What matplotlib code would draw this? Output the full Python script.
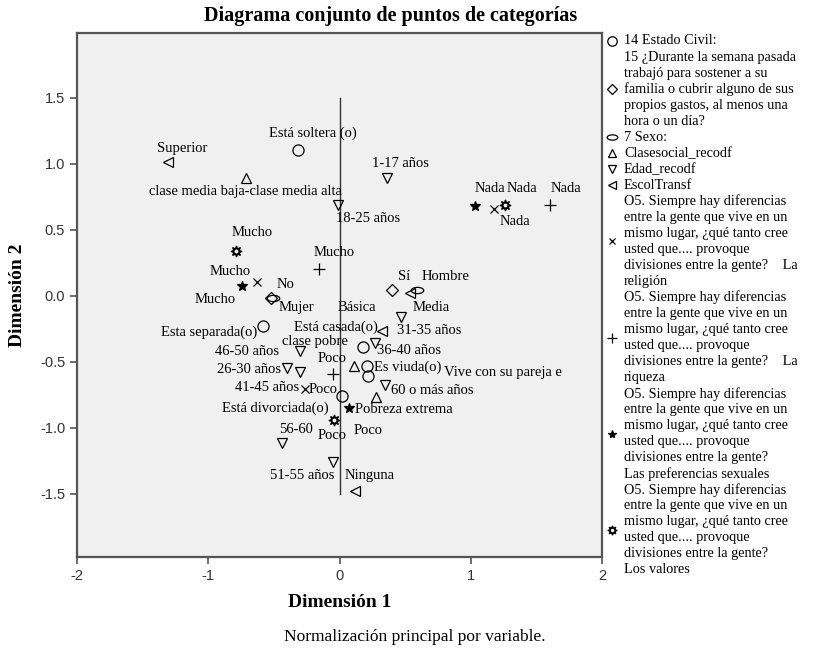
import numpy as np
import matplotlib
matplotlib.use("Agg")
import matplotlib.pyplot as plt
from matplotlib.path import Path
from matplotlib.transforms import Affine2D
from matplotlib.ticker import FormatStrFormatter

## category points (Dimension 1, Dimension 2)
civil_lbl = ["Está soltera (o)", "Está casada(o)", "Esta separada(o)",
             "Está divorciada(o)", "Es viuda(o)", "Vive con su pareja e"]
civil_x = [-0.32, 0.18, -0.58, 0.02, 0.21, 0.22]
civil_y = [1.10, -0.39, -0.23, -0.76, -0.53, -0.61]

trabajo_lbl = ["Sí", "No"]
trabajo_x = [0.40, -0.52]
trabajo_y = [0.045, -0.02]

sexo_lbl = ["Hombre", "Mujer"]
sexo_x = [0.59, -0.51]
sexo_y = [0.045, -0.02]

clase_lbl = ["clase media baja-clase media alta", "clase pobre", "Pobreza extrema"]
clase_x = [-0.71, 0.11, 0.275]
clase_y = [0.89, -0.53, -0.765]

edad_lbl = ["1-17 años", "18-25 años", "26-30 años", "31-35 años", "36-40 años",
            "41-45 años", "46-50 años", "51-55 años", "56-60", "60 o más años"]
edad_x = [0.36, -0.01, -0.40, 0.47, 0.27, -0.30, -0.30, -0.05, -0.435, 0.35]
edad_y = [0.89, 0.69, -0.545, -0.16, -0.36, -0.58, -0.42, -1.26, -1.12, -0.68]

escol_lbl = ["Superior", "Básica", "Media", "Ninguna"]
escol_x = [-1.31, 0.32, 0.54, 0.12]
escol_y = [1.01, -0.27, 0.02, -1.48]

religion_lbl = ["Mucho", "Poco", "Nada"]
religion_x = [-0.63, -0.26, 1.18]
religion_y = [0.10, -0.71, 0.66]

riqueza_lbl = ["Mucho", "Poco", "Nada"]
riqueza_x = [-0.16, -0.053, 1.60]
riqueza_y = [0.205, -0.59, 0.69]

pref_lbl = ["Mucho", "Poco", "Nada"]
pref_x = [-0.74, 0.07, 1.03]
pref_y = [0.076, -0.85, 0.68]

valores_lbl = ["Mucho", "Poco", "Nada"]
valores_x = [-0.79, -0.04, 1.26]
valores_y = [0.34, -0.94, 0.69]

legend_lbl = [
    "14 Estado Civil:",
    "15 ¿Durante la semana pasada\ntrabajó para sostener a su\nfamilia o cubrir alguno de sus\npropios gastos, al menos una\nhora o un día?",
    "7 Sexo:",
    "Clasesocial_recodf",
    "Edad_recodf",
    "EscolTransf",
    "O5. Siempre hay diferencias\nentre la gente que vive en un\nmismo lugar, ¿qué tanto cree\nusted que.... provoque\ndivisiones entre la gente?    La\nreligión",
    "O5. Siempre hay diferencias\nentre la gente que vive en un\nmismo lugar, ¿qué tanto cree\nusted que.... provoque\ndivisiones entre la gente?    La\nriqueza",
    "O5. Siempre hay diferencias\nentre la gente que vive en un\nmismo lugar, ¿qué tanto cree\nusted que.... provoque\ndivisiones entre la gente?\nLas preferencias sexuales",
    "O5. Siempre hay diferencias\nentre la gente que vive en un\nmismo lugar, ¿qué tanto cree\nusted que.... provoque\ndivisiones entre la gente?\nLos valores",
]

## label placement: offset in pixels from the marker + alignment
civil_off = [(15, 17, "center"), (15, 20, "right"), (-6, -6, "right"),
             (-13, -12, "right"), (7, -2, "left"), (76, 4, "left")]
trabajo_off = [(12, 13, "center"), (14, 14, "center")]
sexo_off = [(29, 13, "center"), (24, -9, "center")]
clase_off = [(-1, -13, "center"), (-39, 24, "center"), (-21, -13, "left")]
edad_off = [(14, 15, "center"), (-2, -14, "left"), (-6, -2, "right"), (-4, -14, "left"),
            (2, -7, "left"), (-1, -15, "right"), (-21, 0, "right"), (1, -14, "right"),
            (14, 14, "center"), (6, -5, "left")]
escol_off = [(15, 14, "center"), (-25, 24, "center"), (21, -14, "center"), (14, 16, "center")]
religion_off = [(-27, 11, "center"), (3, 0, "left"), (21, -13, "center")]
riqueza_off = [(16, 16, "center"), (0, 15, "center"), (16, 16, "center")]
pref_off = [(-27, -14, "center"), (19, -23, "center"), (15, 17, "center")]
valores_off = [(16, 18, "center"), (-2, -16, "center"), (17, 16, "center")]

serif = "Liberation Serif"
sans = "Liberation Sans"

ellipse = Path.unit_circle().transformed(Affine2D().scale(1.0, 0.5))

styles = [
    dict(marker="o", ms=8, mfc="none"),
    dict(marker="D", ms=6.5, mfc="none"),
    dict(marker=ellipse, ms=9, mfc="none"),
    dict(marker="^", ms=7, mfc="none"),
    dict(marker="v", ms=7, mfc="none"),
    dict(marker="<", ms=7, mfc="none"),
    dict(marker="x", ms=5.5, mfc="none"),
    dict(marker="+", ms=8, mfc="none"),
    dict(marker="*", ms=7, mfc="black"),
    dict(marker=(8, 1, 0), ms=8, mfc="black"),
]

groups = [
    (civil_x, civil_y, civil_lbl, civil_off),
    (trabajo_x, trabajo_y, trabajo_lbl, trabajo_off),
    (sexo_x, sexo_y, sexo_lbl, sexo_off),
    (clase_x, clase_y, clase_lbl, clase_off),
    (edad_x, edad_y, edad_lbl, edad_off),
    (escol_x, escol_y, escol_lbl, escol_off),
    (religion_x, religion_y, religion_lbl, religion_off),
    (riqueza_x, riqueza_y, riqueza_lbl, riqueza_off),
    (pref_x, pref_y, pref_lbl, pref_off),
    (valores_x, valores_y, valores_lbl, valores_off),
]

plt.rcParams["axes.unicode_minus"] = False

fig = plt.figure(figsize=(8.15, 6.5), dpi=100)
fig.patch.set_facecolor("white")
ax = fig.add_axes([77 / 815, 1 - 557 / 650, 525 / 815, 524 / 650])
ax.set_facecolor("#f0f0f0")
ax.set_xlim(-2, 2)
ax.set_ylim(-1.98, 1.99)
ax.set_xticks([-2, -1, 0, 1, 2])
ax.set_yticks([-1.5, -1.0, -0.5, 0.0, 0.5, 1.0, 1.5])
ax.yaxis.set_major_formatter(FormatStrFormatter("%.1f"))
for s in ax.spines.values():
    s.set_color("#555555")
    s.set_linewidth(1.6)
ax.tick_params(direction="out", length=5, width=1.2, color="#555555",
               labelsize=10.5, labelcolor="#333333")
for t in ax.get_xticklabels() + ax.get_yticklabels():
    t.set_fontfamily(sans)

## reference line
ax.plot([0, 0], [-1.5, 1.5], color="#333333", lw=1.0, zorder=1)

for (xs, ys, lbls, offs), st in zip(groups, styles):
    ax.plot(xs, ys, linestyle="none", color="black", mec="black", mew=0.9, zorder=3, **st)
    if st["marker"] == (8, 1, 0):
        ax.plot(xs, ys, linestyle="none", marker="o", ms=2.8, mfc="#f0f0f0", mec="none", zorder=4)
    for x, y, l, (dx, dy, ha) in zip(xs, ys, lbls, offs):
        ax.annotate(l, (x, y), xytext=(dx, dy), textcoords="offset pixels",
                    ha=ha, va="center", fontsize=10.5, family=serif, color="black",
                    zorder=5)

fig.text(391 / 815, 1 - 16 / 650, "Diagrama conjunto de puntos de categorías",
         ha="center", va="center", fontsize=14.5, fontweight="bold", family=serif)
ax.set_xlabel("Dimensión 1", fontsize=14, fontweight="bold", family=serif, labelpad=8)
ax.set_ylabel("Dimensión 2", fontsize=14, fontweight="bold", family=serif, labelpad=10)

fig.text(415 / 815, 1 - 637 / 650, "Normalización principal por variable.",
         ha="center", va="center", fontsize=12.5, family=serif)

## legend drawn in pixel space, one text per line
lax = fig.add_axes([0, 0, 1, 1])
lax.set_xlim(0, 815)
lax.set_ylim(650, 0)
lax.axis("off")
lax.patch.set_alpha(0)
line_h = 16.03
row = 0
for lbl, st in zip(legend_lbl, styles):
    lines = lbl.split("\n")
    n = len(lines)
    y_top = 41 + row * line_h
    y_mid = y_top + (n - 1) * line_h / 2
    lax.plot([612], [y_mid], linestyle="none", color="black", mec="black", mew=0.9,
             **{**st, "ms": st["ms"] * 0.85})
    if st["marker"] == (8, 1, 0):
        lax.plot([612], [y_mid], linestyle="none", marker="o", ms=2.4, mfc="white", mec="none")
    for i, ln in enumerate(lines):
        lax.text(624, y_top + i * line_h, ln, ha="left", va="center", fontsize=10.3,
                 family=serif)
    row += n

fig.savefig("out.png", dpi=100)
